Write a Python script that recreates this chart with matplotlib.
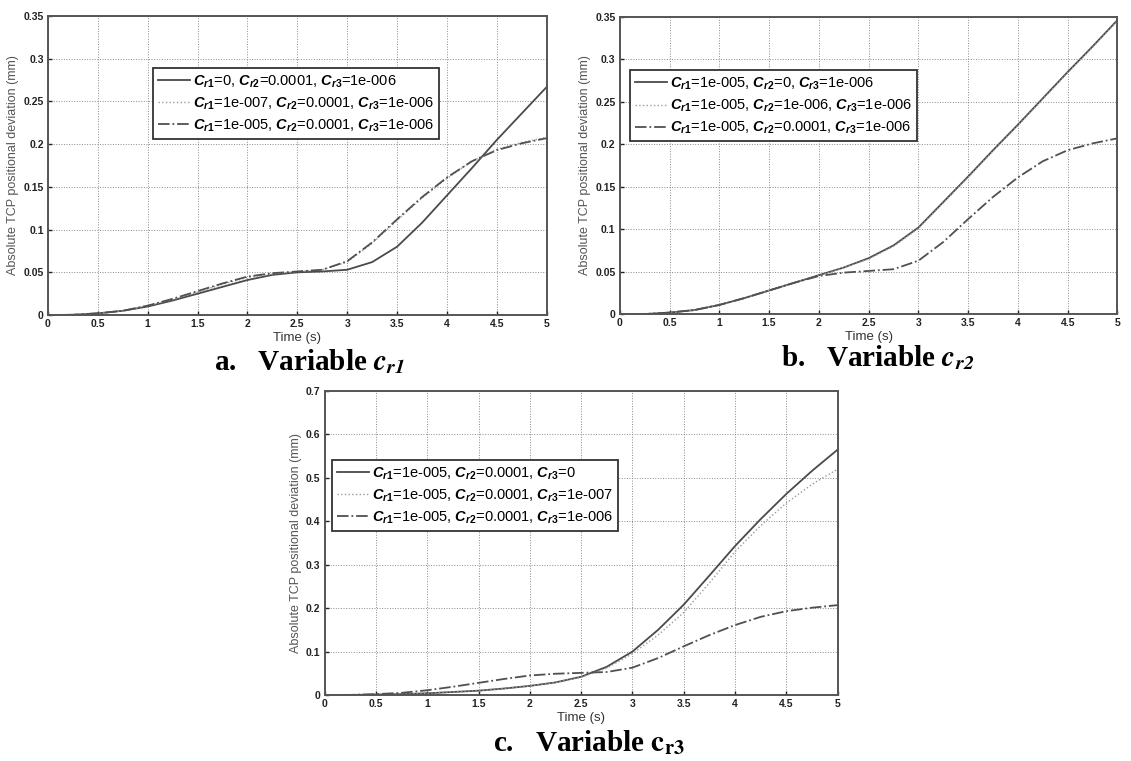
"""Absolute TCP positional deviation for variable c_r1, c_r2, c_r3."""

import matplotlib

matplotlib.use("Agg")
import matplotlib.pyplot as plt


TIME_S = [0, 0.25, 0.5, 0.75, 1, 1.25, 1.5, 1.75, 2, 2.25, 2.5,
          2.75, 3, 3.25, 3.5, 3.75, 4, 4.25, 4.5, 4.75, 5]

# Cr1=1e-005, Cr2=0.0001, Cr3=1e-006 (dash-dot curve in every panel)
BASE_DEV = [0, 0.0003, 0.002, 0.005, 0.011, 0.019, 0.028, 0.037, 0.045, 0.049, 0.051,
            0.053, 0.063, 0.085, 0.112, 0.138, 0.161, 0.180, 0.193, 0.201, 0.207]

# panel a: variable c_r1
A_CR1_ZERO = [0, 0.0003, 0.002, 0.005, 0.010, 0.017, 0.025, 0.033, 0.041, 0.047, 0.050,
              0.051, 0.053, 0.062, 0.080, 0.108, 0.140, 0.172, 0.205, 0.236, 0.267]
A_CR1_1E7 = [0, 0.0003, 0.002, 0.005, 0.011, 0.018, 0.027, 0.036, 0.044, 0.048, 0.051,
             0.053, 0.062, 0.084, 0.111, 0.137, 0.160, 0.180, 0.194, 0.202, 0.208]

# panel b: variable c_r2
B_CR2_ZERO = [0, 0.0003, 0.002, 0.005, 0.011, 0.019, 0.028, 0.037, 0.046, 0.055, 0.066,
              0.081, 0.102, 0.132, 0.162, 0.193, 0.223, 0.254, 0.285, 0.315, 0.346]
B_CR2_1E6 = [0, 0.0003, 0.002, 0.005, 0.011, 0.019, 0.028, 0.037, 0.046, 0.055, 0.065,
             0.080, 0.101, 0.131, 0.161, 0.192, 0.222, 0.253, 0.284, 0.314, 0.345]

# panel c: variable c_r3
C_CR3_ZERO = [0, 0.0002, 0.001, 0.002, 0.004, 0.007, 0.010, 0.015, 0.021, 0.029, 0.042,
              0.065, 0.100, 0.150, 0.208, 0.275, 0.343, 0.405, 0.463, 0.516, 0.565]
C_CR3_1E7 = [0, 0.0002, 0.001, 0.002, 0.004, 0.007, 0.010, 0.015, 0.021, 0.029, 0.041,
             0.062, 0.095, 0.138, 0.190, 0.258, 0.330, 0.390, 0.442, 0.485, 0.520]

LABELS_A = [
    r"$C_{r1}$=0, $C_{r2}$=0.0001, $C_{r3}$=1e-006",
    r"$C_{r1}$=1e-007, $C_{r2}$=0.0001, $C_{r3}$=1e-006",
    r"$C_{r1}$=1e-005, $C_{r2}$=0.0001, $C_{r3}$=1e-006",
]
LABELS_B = [
    r"$C_{r1}$=1e-005, $C_{r2}$=0, $C_{r3}$=1e-006",
    r"$C_{r1}$=1e-005, $C_{r2}$=1e-006, $C_{r3}$=1e-006",
    r"$C_{r1}$=1e-005, $C_{r2}$=0.0001, $C_{r3}$=1e-006",
]
LABELS_C = [
    r"$C_{r1}$=1e-005, $C_{r2}$=0.0001, $C_{r3}$=0",
    r"$C_{r1}$=1e-005, $C_{r2}$=0.0001, $C_{r3}$=1e-007",
    r"$C_{r1}$=1e-005, $C_{r2}$=0.0001, $C_{r3}$=1e-006",
]

X_TICKS = [0, 0.5, 1, 1.5, 2, 2.5, 3, 3.5, 4, 4.5, 5]
X_TICK_LABELS = ["0", "0.5", "1", "1.5", "2", "2.5", "3", "3.5", "4", "4.5", "5"]
Y_TICKS_AB = [0, 0.05, 0.1, 0.15, 0.2, 0.25, 0.3, 0.35]
Y_TICK_LABELS_AB = ["0", "0.05", "0.1", "0.15", "0.2", "0.25", "0.3", "0.35"]
Y_TICKS_C = [0, 0.1, 0.2, 0.3, 0.4, 0.5, 0.6, 0.7]
Y_TICK_LABELS_C = ["0", "0.1", "0.2", "0.3", "0.4", "0.5", "0.6", "0.7"]

SOLID_COLOR = "#4a4a4a"
DOT_COLOR = "#9a9a9a"
DASHDOT_COLOR = "#505050"


def setup_matplotlib() -> None:
    plt.rcParams["font.family"] = ["Liberation Sans", "DejaVu Sans"]
    plt.rcParams["mathtext.fontset"] = "custom"
    plt.rcParams["mathtext.it"] = "Liberation Sans:italic:bold"
    plt.rcParams["mathtext.rm"] = "Liberation Sans:bold"
    plt.rcParams["mathtext.bf"] = "Liberation Sans:bold"


def draw_panel(ax, curves, labels, yticks, yticklabels, legend_anchor):
    styles = [
        dict(color=SOLID_COLOR, linestyle="-", linewidth=1.3),
        dict(color=DOT_COLOR, linestyle=":", linewidth=1.0),
        dict(color=DASHDOT_COLOR, linestyle="-.", linewidth=1.3),
    ]
    for values, label, style in zip(curves, labels, styles):
        ax.plot(TIME_S, values, label=label, **style)

    ax.set_xlim(0, 5)
    ax.set_ylim(yticks[0], yticks[-1])
    ax.set_xticks(X_TICKS)
    ax.set_xticklabels(X_TICK_LABELS, fontsize=7.5, fontweight="bold")
    ax.set_yticks(yticks)
    ax.set_yticklabels(yticklabels, fontsize=7.5, fontweight="bold")
    ax.tick_params(direction="in", length=3, width=1.0, pad=3, colors="#222222")
    ax.grid(True, linestyle=":", color="#8a8a8a", linewidth=0.7)
    for spine in ax.spines.values():
        spine.set_linewidth(1.4)
        spine.set_color("#555555")
    ax.set_xlabel("Time (s)", fontsize=9.5, color="#333333", labelpad=2)
    ax.set_ylabel("Absolute TCP positional deviation (mm)", fontsize=9, color="#555555", labelpad=3)

    leg = ax.legend(
        loc="upper left",
        bbox_to_anchor=legend_anchor,
        fontsize=10.5,
        frameon=True,
        fancybox=False,
        framealpha=1,
        edgecolor="#333333",
        handlelength=2.2,
        handletextpad=0.2,
        labelspacing=0.4,
        borderpad=0.35,
        borderaxespad=0,
    )
    leg.get_frame().set_linewidth(1.3)


def main() -> None:
    setup_matplotlib()
    fig = plt.figure(figsize=(11.31, 7.61), dpi=100)

    ax_a = fig.add_axes([0.0424, 0.586, 0.441, 0.393])
    ax_b = fig.add_axes([0.548, 0.587, 0.440, 0.391])
    ax_c = fig.add_axes([0.287, 0.0867, 0.4536, 0.3995])

    draw_panel(ax_a, [A_CR1_ZERO, A_CR1_1E7, BASE_DEV], LABELS_A,
               Y_TICKS_AB, Y_TICK_LABELS_AB, (0.21, 0.826))
    draw_panel(ax_b, [B_CR2_ZERO, B_CR2_1E6, BASE_DEV], LABELS_B,
               Y_TICKS_AB, Y_TICK_LABELS_AB, (0.02, 0.82))
    draw_panel(ax_c, [C_CR3_ZERO, C_CR3_1E7, BASE_DEV], LABELS_C,
               Y_TICKS_C, Y_TICK_LABELS_C, (0.014, 0.773))

    title_kw = dict(ha="center", va="center", fontsize=21, fontweight="bold",
                    family="Liberation Serif", math_fontfamily="stix")
    fig.text(0.274, 1 - 362 / 761, r"a.   Variable $\mathbfit{c}_{\mathbfit{r1}}$", **title_kw)
    fig.text(0.776, 1 - 358 / 761, r"b.   Variable $\mathbfit{c}_{\mathbfit{r2}}$", **title_kw)
    fig.text(0.521, 1 - 743 / 761, r"c.   Variable $\mathbf{c}_{\mathbf{r3}}$", **title_kw)

    fig.savefig("out.png", dpi=100)
    plt.close(fig)


if __name__ == "__main__":
    main()
